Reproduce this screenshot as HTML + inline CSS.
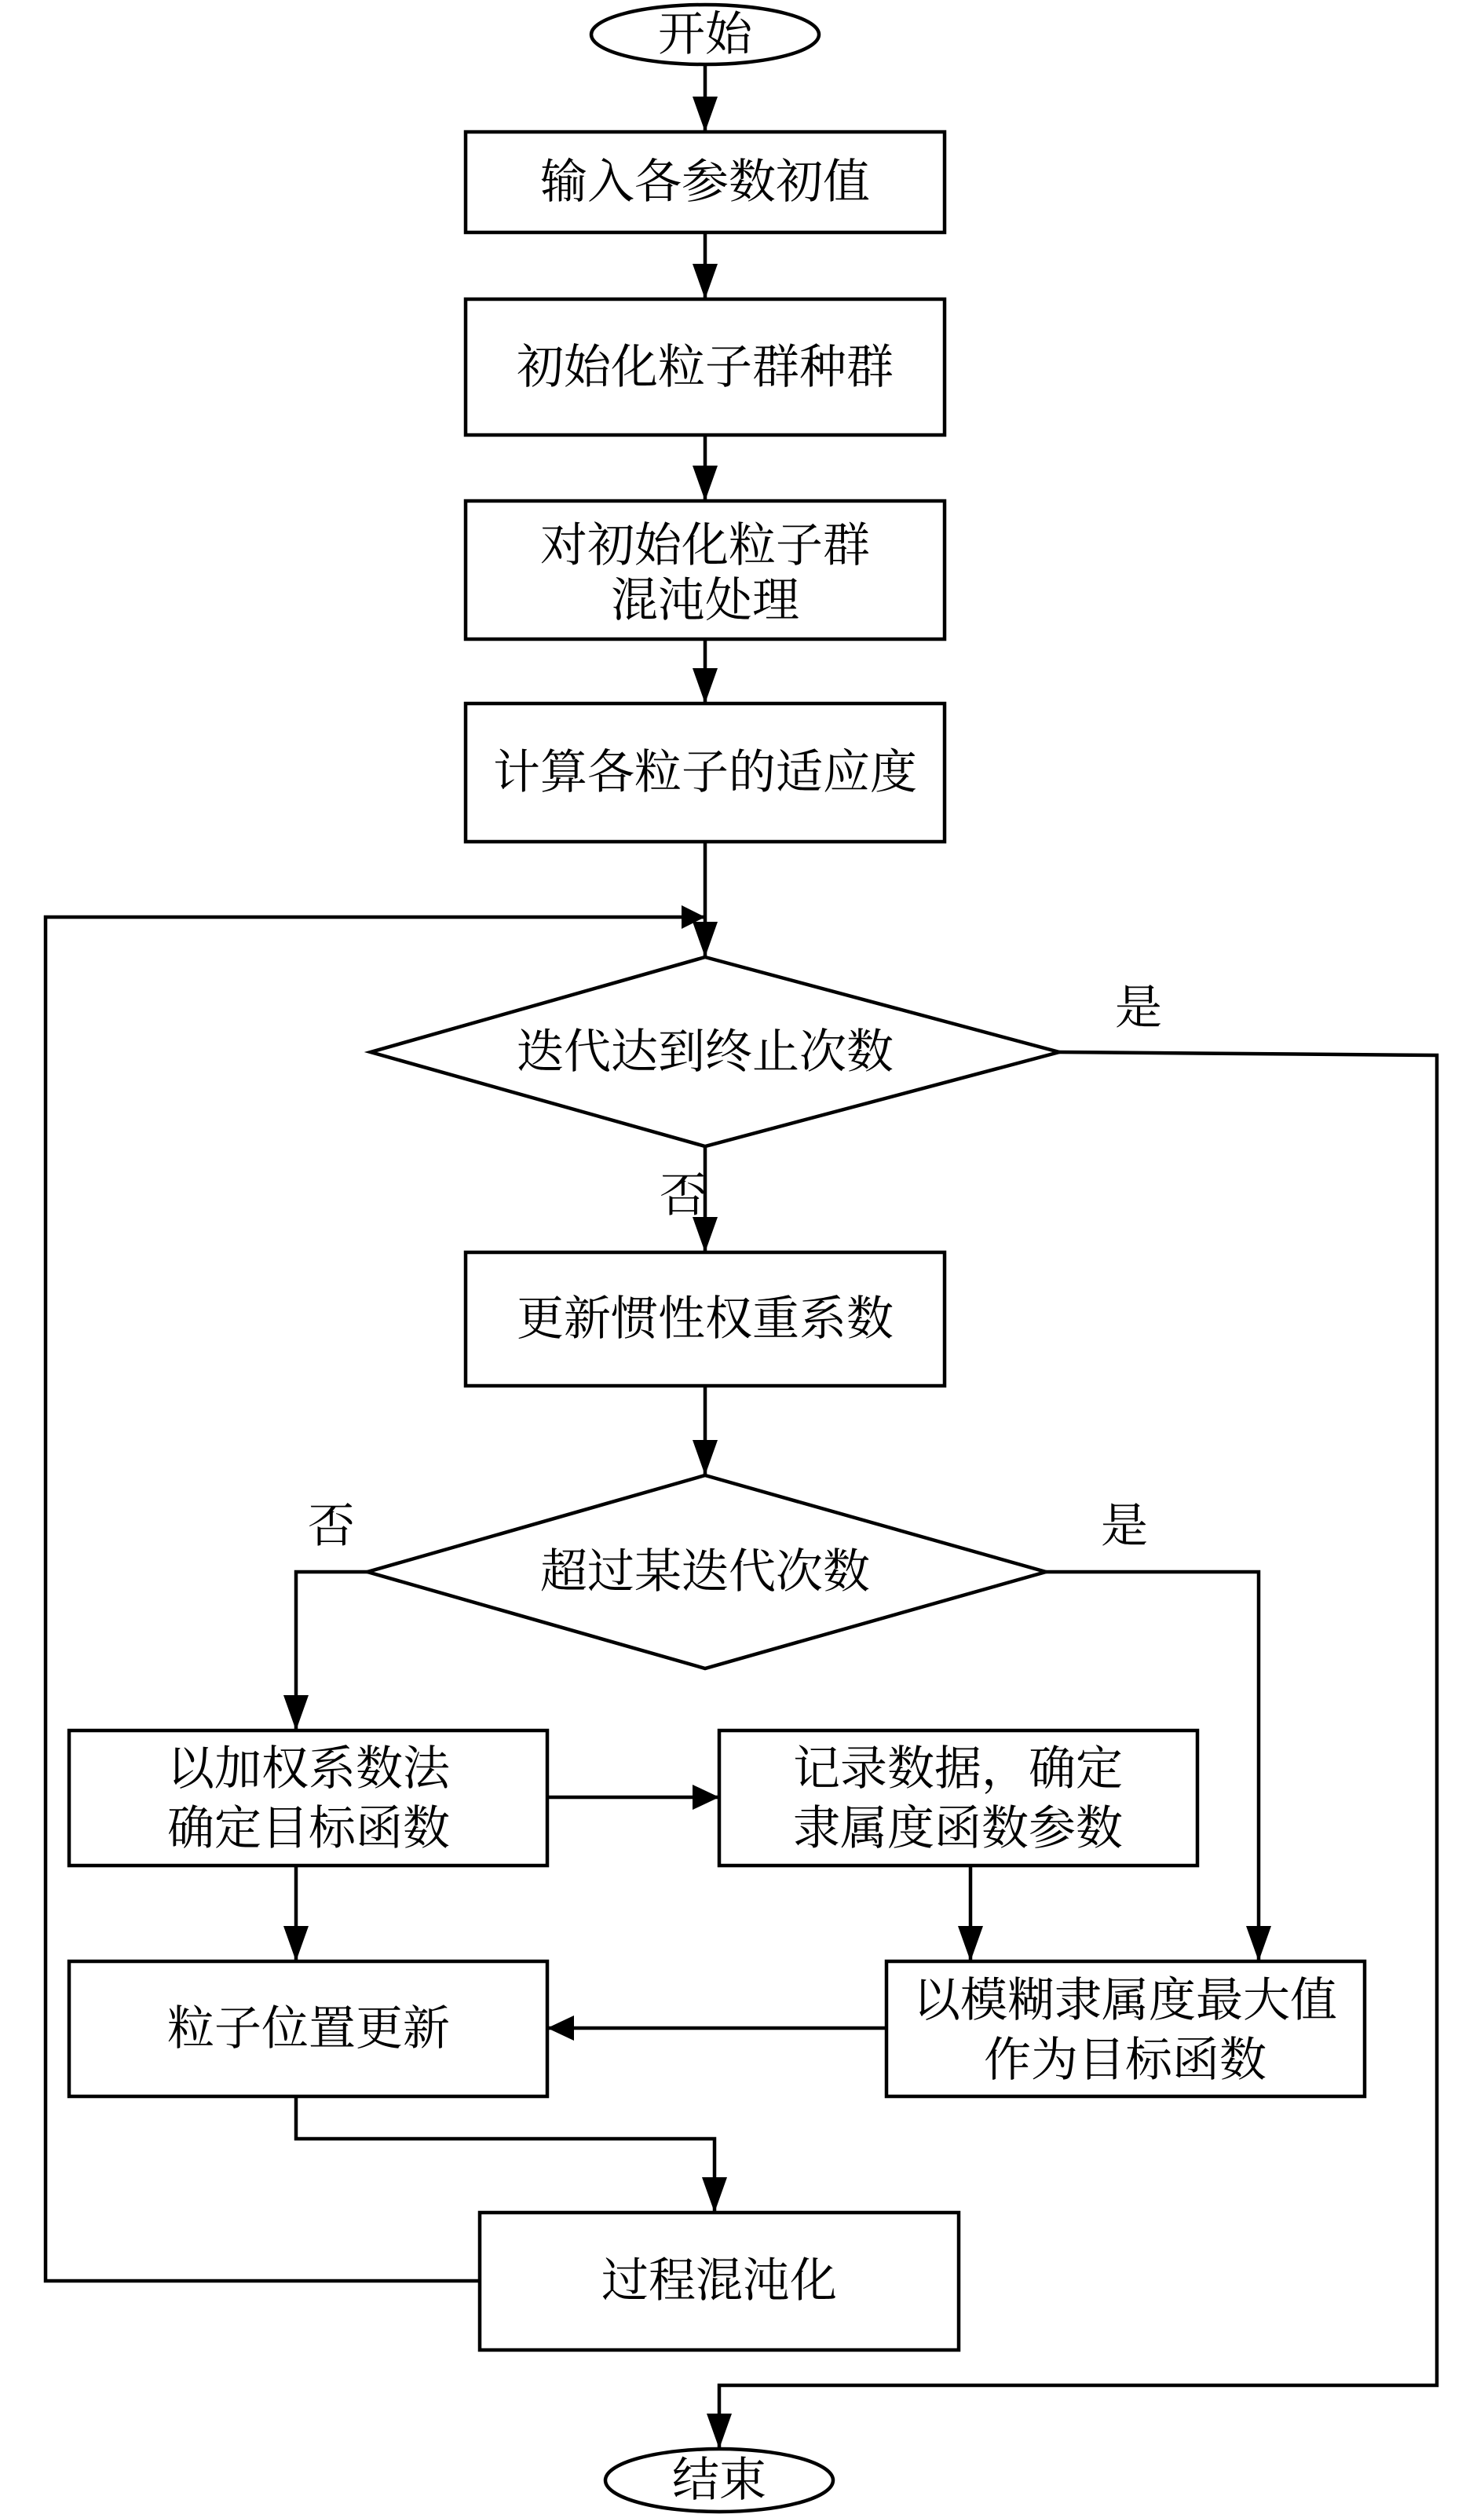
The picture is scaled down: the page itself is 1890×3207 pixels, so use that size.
<!DOCTYPE html>
<html><head><meta charset="utf-8"><style>
html,body{margin:0;padding:0;background:#fff;}
svg{display:block;}
text{font-family:"Liberation Serif","Noto Serif CJK SC",serif;font-size:60px;fill:#000;text-anchor:middle;dominant-baseline:central;}
</style></head><body>
<svg width="1890" height="3207" viewBox="0 0 1890 3207" xmlns="http://www.w3.org/2000/svg">
<g fill="none" stroke="#000" stroke-width="4.5">
<ellipse cx="898" cy="44" rx="145" ry="38"/>
<rect x="593" y="168" width="610" height="128"/>
<rect x="593" y="381" width="610" height="173"/>
<rect x="593" y="638" width="610" height="176"/>
<rect x="593" y="896" width="610" height="176"/>
<polygon points="898,1219 1349,1340 898,1460 472,1340"/>
<rect x="593" y="1595" width="610" height="170"/>
<polygon points="898,1879 1332,2002 898,2125 468,2002"/>
<rect x="88" y="2204" width="609" height="172"/>
<rect x="916" y="2204" width="609" height="172"/>
<rect x="88" y="2498" width="609" height="172"/>
<rect x="1129" y="2498" width="609" height="172"/>
<rect x="611" y="2818" width="610" height="175"/>
<ellipse cx="916" cy="3159" rx="145" ry="40"/>
<polyline points="898,82 898,168"/>
<polyline points="898,296 898,381"/>
<polyline points="898,554 898,638"/>
<polyline points="898,814 898,896"/>
<polyline points="898,1072 898,1219"/>
<polyline points="898,1460 898,1595"/>
<polyline points="898,1765 898,1879"/>
<polyline points="468,2002 377,2002 377,2204"/>
<polyline points="1332,2002 1603,2002 1603,2498"/>
<polyline points="697,2289 916,2289"/>
<polyline points="377,2376 377,2498"/>
<polyline points="1236,2376 1236,2498"/>
<polyline points="1129,2583 697,2583"/>
<polyline points="377,2670 377,2724 910,2724 910,2818"/>
<polyline points="611,2905 58,2905 58,1168 898,1168"/>
<polyline points="1349,1340 1830,1344 1830,3038 916,3038 916,3119"/>
</g>
<g fill="#000">
<polygon points="898,168 882,123 914,123"/>
<polygon points="898,381 882,336 914,336"/>
<polygon points="898,638 882,593 914,593"/>
<polygon points="898,896 882,851 914,851"/>
<polygon points="898,1219 882,1174 914,1174"/>
<polygon points="898,1168 868,1153 868,1183"/>
<polygon points="898,1595 882,1550 914,1550"/>
<polygon points="898,1879 882,1834 914,1834"/>
<polygon points="377,2204 361,2159 393,2159"/>
<polygon points="1603,2498 1587,2453 1619,2453"/>
<polygon points="916,2289 882,2273 882,2305"/>
<polygon points="377,2498 361,2453 393,2453"/>
<polygon points="1236,2498 1220,2453 1252,2453"/>
<polygon points="697,2583 731,2567 731,2599"/>
<polygon points="910,2818 894,2773 926,2773"/>
<polygon points="916,3119 900,3074 932,3074"/>
</g>
<text x="898" y="44">开始</text>
<text x="898" y="232">输入各参数初值</text>
<text x="898" y="468">初始化粒子群种群</text>
<text x="898" y="695">对初始化粒子群</text>
<text x="898" y="765">混沌处理</text>
<text x="898" y="984">计算各粒子的适应度</text>
<text x="898" y="1340">迭代达到终止次数</text>
<text x="1450" y="1284">是</text>
<text x="870" y="1523">否</text>
<text x="898" y="1680">更新惯性权重系数</text>
<text x="898" y="2002">超过某迭代次数</text>
<text x="422" y="1944">否</text>
<text x="1432" y="1944">是</text>
<text x="393" y="2253">以加权系数法</text>
<text x="393" y="2329">确定目标函数</text>
<text x="1220" y="2253">记录数据，确定</text>
<text x="1220" y="2329">隶属度函数参数</text>
<text x="393" y="2584">粒子位置更新</text>
<text x="1433" y="2548">以模糊隶属度最大值</text>
<text x="1433" y="2624">作为目标函数</text>
<text x="916" y="2905">过程混沌化</text>
<text x="916" y="3159">结束</text>
</svg>
</body></html>
